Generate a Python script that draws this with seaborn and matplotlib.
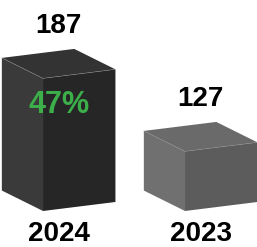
import matplotlib
matplotlib.use("Agg")
import matplotlib.pyplot as plt
import seaborn as sns

# data
years = ["2024", "2023"]
counts = [187, 127]
change_label = "47%"   # 187 vs 127

sns.set_theme(style="white")
plt.rcParams["font.family"] = ["Liberation Sans", "DejaVu Sans"]

# box styling (face colours per box: left side, front, top)
left_cols = ["#3a3a3a", "#707070"]
front_cols = ["#262626", "#5c5c5c"]
top_cols = ["#333333", "#6a6a6a"]
edge_col = "#8a8a8a"

FLOOR = 78          # value where the boxes start
W_X, W_Y = 0.51, 7.4   # width direction (category units, value units)
D_X, D_Y = 0.29, 16.8  # depth direction

fig = plt.figure(figsize=(2.57, 2.47), dpi=100)
ax = fig.add_axes([0, 0, 1, 1])
ax.set_xlim(-0.303, 1.507)
ax.set_ylim(48.4, 251.4)
ax.axis("off")

for i, (yr, v) in enumerate(zip(years, counts)):
    # left side face
    ax.fill([i, i - D_X, i - D_X, i], [FLOOR, FLOOR + D_Y, v + D_Y, v],
            color=left_cols[i], lw=0)
    # front face
    ax.fill([i, i + W_X, i + W_X, i], [FLOOR, FLOOR + W_Y, v + W_Y, v],
            color=front_cols[i], lw=0)
    # top face
    ax.fill([i, i + W_X, i + W_X - D_X, i - D_X], [v, v + W_Y, v + W_Y + D_Y, v + D_Y],
            color=top_cols[i], lw=0)
    # thin light edges on top
    ax.plot([i - D_X, i, i + W_X], [v + D_Y, v, v + W_Y], color=edge_col, lw=0.4, alpha=0.8)

    cx = i + 0.11
    ax.annotate(str(v), xy=(cx, v + W_Y + D_Y), xytext=(0, 7), textcoords="offset points",
                ha="center", va="bottom", fontsize=20, fontweight="bold", color="black")
    ax.annotate(yr, xy=(cx, FLOOR), xytext=(0, -16.5), textcoords="offset points",
                ha="center", va="center", fontsize=20, fontweight="bold", color="black")

ax.annotate(change_label, xy=(0.11, counts[0]), xytext=(0, -19), textcoords="offset points",
            ha="center", va="center", fontsize=22, fontweight="bold", color="#3cae4a")

fig.savefig("out.png", dpi=100)
